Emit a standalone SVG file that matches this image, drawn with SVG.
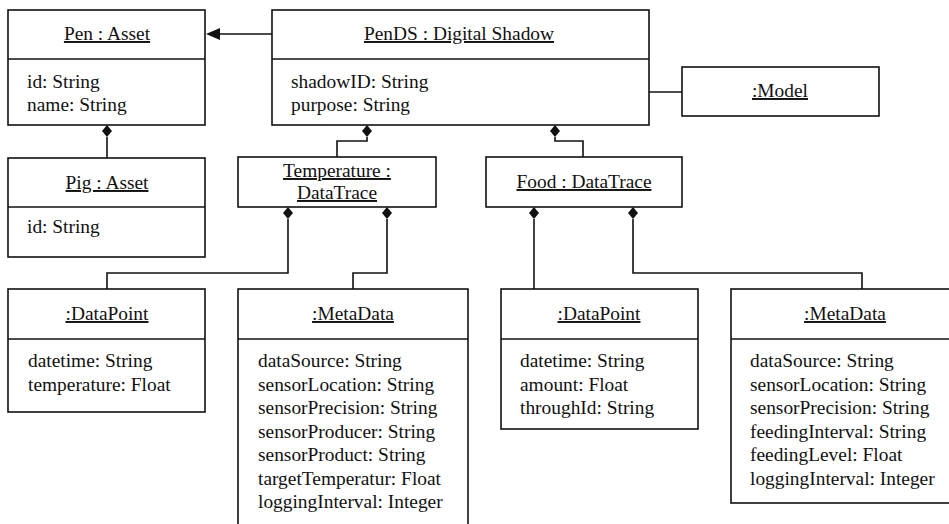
<svg xmlns="http://www.w3.org/2000/svg" width="949" height="524" viewBox="0 0 949 524">
<style>
.box{fill:#fff;stroke:#111;stroke-width:1.6}
.div{stroke:#111;stroke-width:1.6}
text{font-family:'Liberation Serif','Times New Roman','DejaVu Serif',serif;font-size:19.4px;fill:#111}
.title{text-anchor:middle;text-decoration:underline}
.con{fill:none;stroke:#111;stroke-width:1.6}
</style>
<rect width="949" height="524" fill="#fff"/>
<g id="connectors">
<line class="con" x1="272" y1="34" x2="220" y2="34"/>
<path d="M206,34 L220,28 L220,40 Z" fill="#111"/>
<line class="con" x1="649" y1="92" x2="682" y2="92"/>
<path d="M107,125 L112,131 L107,137 L102,131 Z" fill="#111"/>
<line class="con" x1="107" y1="137" x2="107" y2="158"/>
<path d="M367,125 L372,131 L367,137 L362,131 Z" fill="#111"/>
<path class="con" d="M367,137 L367,141 L337,141 L337,157"/>
<path d="M555,125 L560,131 L555,137 L550,131 Z" fill="#111"/>
<path class="con" d="M555,137 L555,141 L583,141 L583,157"/>
<path d="M288,207 L293,213 L288,219 L283,213 Z" fill="#111"/>
<path class="con" d="M288,219 L288,273 L107,273 L107,289"/>
<path d="M387,207 L392,213 L387,219 L382,213 Z" fill="#111"/>
<path class="con" d="M387,219 L387,273 L353,273 L353,289"/>
<path d="M534,207 L539,213 L534,219 L529,213 Z" fill="#111"/>
<path class="con" d="M534,219 L534,289"/>
<path d="M633,207 L638,213 L633,219 L628,213 Z" fill="#111"/>
<path class="con" d="M633,219 L633,273 L862,273 L862,289"/>
</g>
<g id="pen">
<rect class="box" x="8" y="10" width="197" height="115"/>
<line class="div" x1="8" y1="59" x2="205" y2="59"/>
<text class="title" x="107" y="40">Pen : Asset</text>
<text x="27" y="88">id: String</text>
<text x="27" y="111">name: String</text>
</g>
<g id="pig">
<rect class="box" x="8" y="158" width="197" height="99"/>
<line class="div" x1="8" y1="207" x2="205" y2="207"/>
<text class="title" x="107" y="189">Pig : Asset</text>
<text x="27" y="233">id: String</text>
</g>
<g id="pends">
<rect class="box" x="272" y="10" width="377" height="115"/>
<line class="div" x1="272" y1="59" x2="649" y2="59"/>
<text class="title" x="459" y="40">PenDS : Digital Shadow</text>
<text x="291" y="88">shadowID: String</text>
<text x="291" y="111">purpose: String</text>
</g>
<g id="model">
<rect class="box" x="682" y="67" width="197" height="49"/>
<text class="title" x="780" y="97">:Model</text>
</g>
<g id="temperature">
<rect class="box" x="238" y="157" width="198" height="50"/>
<text class="title" x="337" y="177">Temperature :</text>
<text class="title" x="337" y="199">DataTrace</text>
</g>
<g id="food">
<rect class="box" x="486" y="157" width="196" height="50"/>
<text class="title" x="584" y="188">Food : DataTrace</text>
</g>
<g id="temp-datapoint">
<rect class="box" x="8" y="289" width="197" height="123"/>
<line class="div" x1="8" y1="339" x2="205" y2="339"/>
<text class="title" x="107" y="320">:DataPoint</text>
<text x="28" y="367">datetime: String</text>
<text x="28" y="390.5">temperature: Float</text>
</g>
<g id="temp-metadata">
<rect class="box" x="238" y="289" width="230" height="245"/>
<line class="div" x1="238" y1="339" x2="468" y2="339"/>
<text class="title" x="353" y="320">:MetaData</text>
<text x="258" y="367">dataSource: String</text>
<text x="258" y="390.5">sensorLocation: String</text>
<text x="258" y="414">sensorPrecision: String</text>
<text x="258" y="437.5">sensorProducer: String</text>
<text x="258" y="461">sensorProduct: String</text>
<text x="258" y="484.5">targetTemperatur: Float</text>
<text x="258" y="508">loggingInterval: Integer</text>
</g>
<g id="food-datapoint">
<rect class="box" x="501" y="289" width="197" height="140"/>
<line class="div" x1="501" y1="339" x2="698" y2="339"/>
<text class="title" x="599" y="320">:DataPoint</text>
<text x="520" y="367">datetime: String</text>
<text x="520" y="390.5">amount: Float</text>
<text x="520" y="414">throughId: String</text>
</g>
<g id="food-metadata">
<rect class="box" x="731" y="289" width="230" height="214"/>
<line class="div" x1="731" y1="339" x2="961" y2="339"/>
<text class="title" x="845" y="320">:MetaData</text>
<text x="750" y="367">dataSource: String</text>
<text x="750" y="390.5">sensorLocation: String</text>
<text x="750" y="414">sensorPrecision: String</text>
<text x="750" y="437.5">feedingInterval: String</text>
<text x="750" y="461">feedingLevel: Float</text>
<text x="750" y="484.5">loggingInterval: Integer</text>
</g>
</svg>
